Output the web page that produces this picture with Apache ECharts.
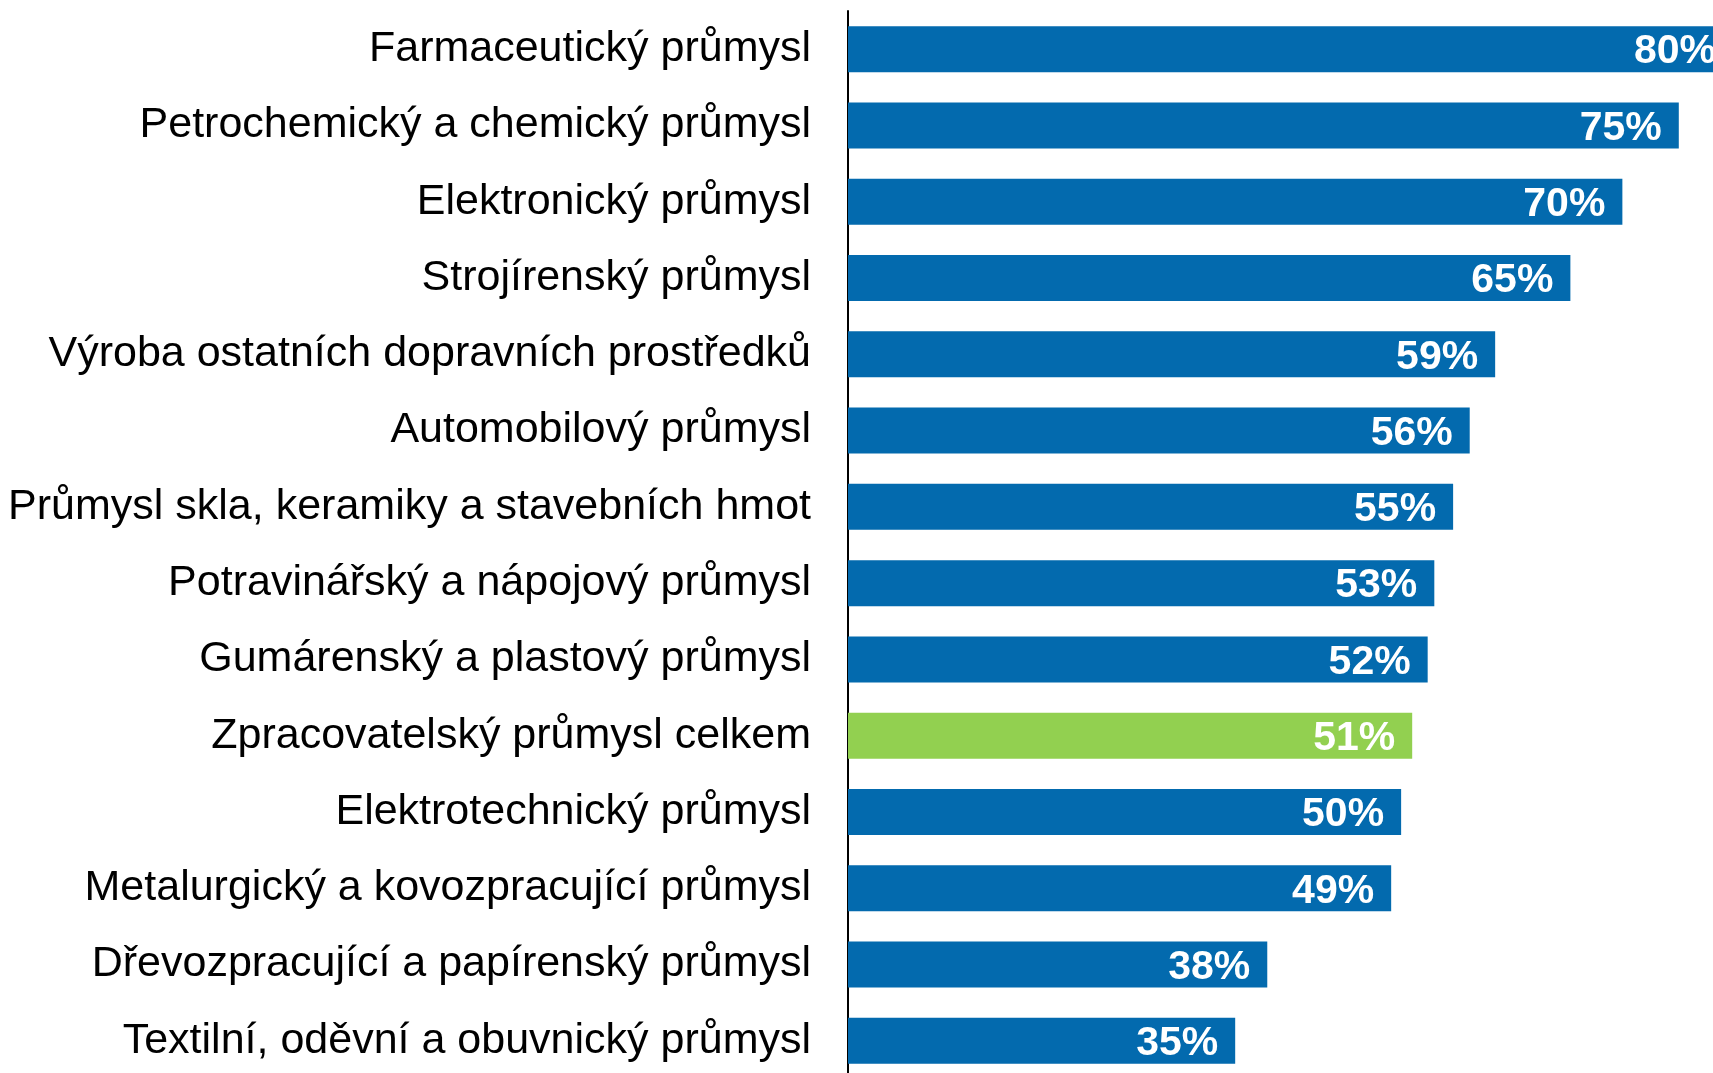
<!DOCTYPE html>
<html>
<head>
<meta charset="utf-8">
<script src="https://cdn.jsdelivr.net/npm/echarts@6/dist/echarts.min.js"></script>
<style>
    html, body { margin: 0; padding: 0; background: #fff; overflow: hidden; }
    .EC { width: 1760px; height: 1090px; }
</style>
</head>
<body>
<div class="EC"></div>
<script>
    // odvětví (shora dolů)
    const categories = [
        'Farmaceutický průmysl',
        'Petrochemický a chemický průmysl',
        'Elektronický průmysl',
        'Strojírenský průmysl',
        'Výroba ostatních dopravních prostředků',
        'Automobilový průmysl',
        'Průmysl skla, keramiky a stavebních hmot',
        'Potravinářský a nápojový průmysl',
        'Gumárenský a plastový průmysl',
        'Zpracovatelský průmysl celkem',
        'Elektrotechnický průmysl',
        'Metalurgický a kovozpracující průmysl',
        'Dřevozpracující a papírenský průmysl',
        'Textilní, oděvní a obuvnický průmysl'
    ]
    // délky sloupců (popisky se zaokrouhlují)
    const values = [80, 75.1, 70, 65.3, 58.5, 56.2, 54.7, 53, 52.4, 51, 50, 49.1, 37.9, 35]
    const highlight = 'Zpracovatelský průmysl celkem'

    window.onload = () => {
        let EC = echarts.init(document.querySelector('.EC'))
        const font = "'Liberation Sans', Arial, sans-serif"
        let option = {
            backgroundColor: '#ffffff',
            animation: false,
            grid: {
                left: 848,
                right: 27,
                top: 11,
                height: 1068
            },
            xAxis: {
                type: 'value',
                min: 0,
                max: 80,
                show: false
            },
            yAxis: {
                type: 'category',
                inverse: true,
                data: categories,
                axisLine: { show: true, lineStyle: { color: '#000', width: 2 } },
                axisTick: { show: false },
                splitLine: { show: false },
                axisLabel: {
                    margin: 37,
                    color: '#000',
                    fontSize: 43,
                    fontFamily: font
                }
            },
            series: [{
                type: 'bar',
                barWidth: 46,
                clip: false,
                data: values.map((v, i) => ({
                    value: v,
                    itemStyle: { color: categories[i] === highlight ? '#92D050' : '#036AAE' }
                })),
                label: {
                    show: true,
                    position: 'insideRight',
                    distance: 17,
                    offset: [0, 3],
                    color: '#fff',
                    fontSize: 41,
                    fontWeight: 'bold',
                    fontFamily: font,
                    formatter: p => Math.round(p.value) + '%'
                }
            }]
        }
        EC.setOption(option)
    }
</script>
</body>
</html>
